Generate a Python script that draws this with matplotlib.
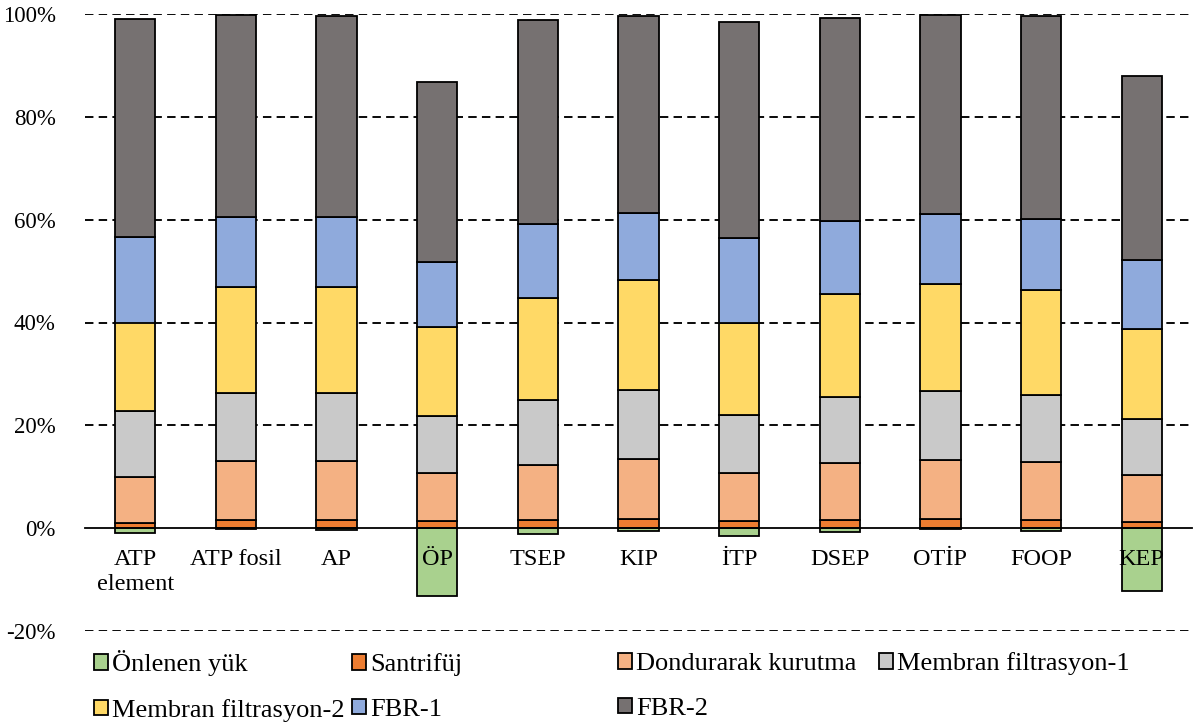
import matplotlib
matplotlib.use("Agg")
import matplotlib.pyplot as plt
from matplotlib.patches import Patch
import numpy as np

plt.rcParams['font.family'] = ['Liberation Serif', 'DejaVu Serif']

categories = ["ATP\nelement", "ATP fosil", "AP", "ÖP", "TSEP", "KIP", "İTP",
              "DSEP", "OTİP", "FOOP", "KEP"]
onlenen_yuk = [-1.0, -0.2, -0.4, -13.2, -1.2, -0.5, -1.5, -0.8, -0.1, -0.5, -12.2]
santrifuj = [1.1, 1.6, 1.6, 1.3, 1.6, 1.7, 1.3, 1.6, 1.7, 1.6, 1.2]
dondurarak = [8.9, 11.4, 11.4, 9.5, 10.7, 11.7, 9.5, 11.0, 11.5, 11.3, 9.1]
membran1 = [12.8, 13.2, 13.2, 11.1, 12.7, 13.4, 11.3, 12.9, 13.5, 13.0, 10.9]
membran2 = [17.2, 20.7, 20.7, 17.3, 19.8, 21.4, 17.9, 20.1, 20.8, 20.5, 17.6]
fbr1 = [16.7, 13.7, 13.7, 12.6, 14.3, 13.1, 16.4, 14.2, 13.6, 13.8, 13.3]
fbr2 = [42.3, 39.2, 39.0, 35.0, 39.7, 38.3, 42.0, 39.4, 38.8, 39.4, 35.8]

series_names = ["Önlenen yük", "Santrifüj", "Dondurarak kurutma", "Membran filtrasyon-1",
                "Membran filtrasyon-2", "FBR-1", "FBR-2"]
colors = ["#A9D18E", "#ED7D31", "#F4B183", "#C9C9C9", "#FFD966", "#8FAADC", "#767171"]
yticks = [-20, 0, 20, 40, 60, 80, 100]

fig = plt.figure(figsize=(11.95, 7.26), dpi=100)
ax = fig.add_axes([85/1195, 1-631/726, (1192-85)/1195, (631-14)/726])

x = np.arange(len(categories))
w = 0.4
ec = dict(edgecolor="black", linewidth=1.3, zorder=2)

ax.bar(x, onlenen_yuk, w, bottom=0, color=colors[0], **ec)
bottom = np.zeros(len(categories))
for vals, col in zip([santrifuj, dondurarak, membran1, membran2, fbr1, fbr2], colors[1:]):
    ax.bar(x, vals, w, bottom=bottom, color=col, **ec)
    bottom += np.array(vals)

for s in ['top', 'right', 'left']:
    ax.spines[s].set_visible(False)
ax.spines['bottom'].set_position(('data', 0))
ax.spines['bottom'].set_linewidth(1.3)
ax.spines['bottom'].set_zorder(3)

ax.set_xlim(-0.5, len(categories) - 0.5)
ax.set_ylim(-20, 100)
ax.set_yticks(yticks)
ax.set_yticklabels([f"{v}%" for v in yticks], fontsize=16.5)
ax.set_xticks(x)
ax.set_xticklabels(categories, fontsize=17.5)
for lab in ax.get_xticklabels():
    lab.set_linespacing(1.25)
ax.tick_params(axis='both', length=0)
ax.tick_params(axis='y', pad=21)
ax.tick_params(axis='x', pad=15)
ax.xaxis.set_zorder(4)

for v in yticks:
    if v != 0:
        ax.axhline(v, color="black", linestyle=(0, (4.5, 2.8)), linewidth=1.35, zorder=0.5)

handles = [Patch(facecolor=c, edgecolor="black", linewidth=1.3) for c in colors]
legA_idx = [0, 4, 1, 5]
legB_idx = [2, 6, 3]
common = dict(ncol=2, frameon=False, fontsize=19, handlelength=0.53, handleheight=0.53,
              handletextpad=0.15, labelspacing=0.85, borderpad=0,
              borderaxespad=0, loc='center left')
legA = fig.legend([handles[i] for i in legA_idx], [series_names[i] for i in legA_idx],
                  bbox_to_anchor=(94/1195, 1-686/726), columnspacing=0.3, **common)
legB = fig.legend([handles[i] for i in legB_idx], [series_names[i] for i in legB_idx],
                  bbox_to_anchor=(618/1195, 1-686/726), columnspacing=0.85, **common)

fig.savefig("out.png", dpi=100)
